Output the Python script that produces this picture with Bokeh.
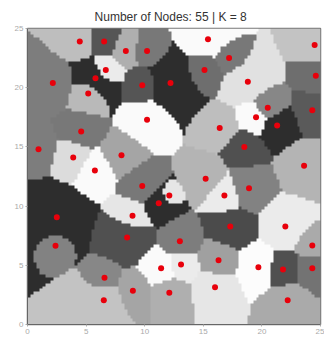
import numpy as np
from bokeh.plotting import figure
from bokeh.embed import file_html
from bokeh.resources import INLINE
from bokeh.models import FixedTicker

# node positions
node_x = [4.46, 6.54, 8.39, 10.2, 6.68, 5.8, 2.16, 9.79, 5.18, 10.2,
          4.58, 0.94, 3.9, 8.02, 5.75, 15.4, 24.5, 17.2, 15.1, 24.6,
          12.2, 18.8, 20.5, 24.3, 19.5, 21.3, 16.4, 18.5, 23.6, 15.2,
          9.79, 12.1, 11.2, 2.5, 8.96, 8.5, 2.39, 11.4, 6.57, 8.99,
          6.51, 12.1, 16.8, 18.9, 17.3, 22.0, 13.0, 24.3, 16.3, 13.1,
          19.7, 21.8, 24.3, 16.0, 22.2]
node_y = [23.9, 23.9, 23.1, 23.1, 21.5, 20.8, 20.4, 20.2, 19.5, 17.3,
          16.3, 14.8, 14.1, 14.3, 13.0, 24.1, 23.6, 22.5, 21.5, 21.0,
          20.4, 20.5, 18.3, 18.1, 17.5, 16.8, 16.6, 15.0, 13.4, 12.3,
          11.7, 10.9, 10.25, 9.06, 9.18, 7.35, 6.65, 4.76, 3.94, 2.84,
          2.05, 2.68, 10.9, 11.5, 8.28, 8.28, 7.03, 6.67, 5.43, 5.07,
          4.84, 4.64, 4.76, 3.15, 2.05]
# cell gray level of each node (0-255)
node_gray = [190, 85, 175, 120, 235, 45, 125, 85, 185, 250,
             120, 125, 220, 165, 250, 250, 195, 120, 110, 110,
             45, 225, 135, 90, 250, 45, 190, 80, 180, 180,
             120, 230, 45, 45, 230, 80, 130, 250, 135, 165,
             195, 175, 235, 130, 75, 235, 125, 170, 160, 235,
             252, 80, 115, 230, 170]
# relative reach of each node's cell
node_weight = [1.0, 0.95, 1.0, 0.9, 1.0, 1.3, 1.1, 1.0, 1.0, 1.1,
               1.0, 0.95, 1.0, 1.0, 1.0, 1.2, 1.0, 0.9, 1.0, 1.0,
               1.45, 1.2, 1.0, 1.0, 1.0, 1.05, 1.0, 1.0, 1.05, 1.0,
               1.0, 0.6, 1.0, 1.35, 1.0, 1.2, 0.72, 1.0, 0.85, 1.0,
               1.2, 1.0, 1.0, 1.05, 1.1, 1.1, 1.0, 0.85, 1.0, 0.9,
               1.05, 0.95, 1.0, 1.05, 1.0]

N_NODES = 55
K = 8
XMAX = 25
YMAX = 25
RES = 100

nx = np.array(node_x)
ny = np.array(node_y)
nw = np.array(node_weight)
ng = np.array(node_gray, dtype=np.uint32)

cs = (np.arange(RES) + 0.5) * XMAX / RES
gx, gy = np.meshgrid(cs, cs)
d = np.sqrt((gx[..., None] - nx) ** 2 + (gy[..., None] - ny) ** 2) / nw
lab = np.argmin(d, axis=2)
g = ng[lab]
img = (np.uint32(255) << 24) | (g << 16) | (g << 8) | g
img = img.astype(np.uint32)

p = figure(width=324, height=337, output_backend="svg", toolbar_location=None,
           x_range=(0, XMAX), y_range=(0, YMAX),
           min_border_left=27, min_border_right=4, min_border_top=28,
           min_border_bottom=13,
           title=f"Number of Nodes: {N_NODES}  |  K = {K}")
p.title.align = "center"
p.title.text_font = "Liberation Sans"
p.title.text_font_size = "12px"
p.title.text_font_style = "normal"
p.title.text_color = "#333333"

p.image_rgba(image=[img], x=0, y=0, dw=XMAX, dh=YMAX)
p.scatter(node_x, node_y, size=6, color="#e8000b", line_color=None)

p.grid.visible = False
for ax in (p.xaxis[0], p.yaxis[0]):
    ax.ticker = FixedTicker(ticks=[0, 5, 10, 15, 20, 25])
    ax.major_label_text_font_size = "8px"
    ax.major_label_text_color = "#aaaaaa"
    ax.major_tick_out = 2
    ax.major_tick_in = 0
    ax.minor_tick_out = 0
    ax.minor_tick_in = 0
    ax.major_tick_line_color = "#aaaaaa"
    ax.axis_line_color = "#666666"
    ax.major_label_standoff = 2
p.outline_line_color = "#777777"
p.outline_line_width = 1.5
p.background_fill_color = "white"

open("out.html", "w").write(file_html(p, INLINE))
